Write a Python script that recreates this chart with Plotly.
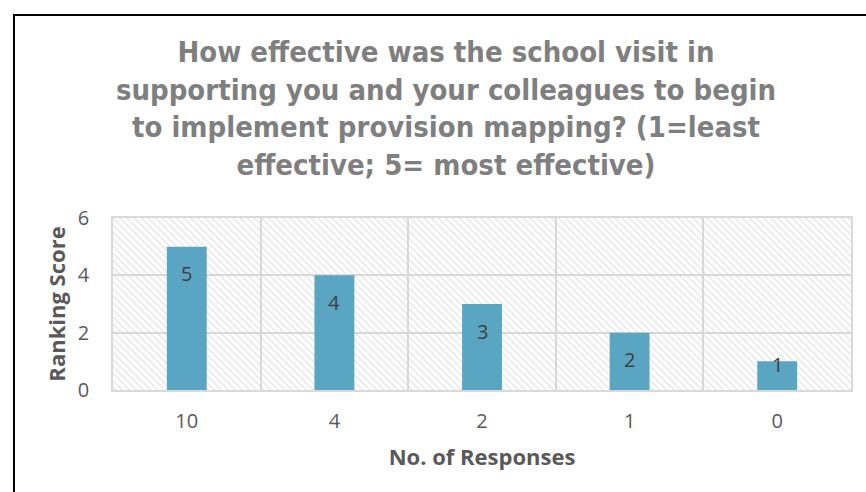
import plotly.graph_objects as go

categories = ["10", "4", "2", "1", "0"]
scores = [5, 4, 3, 2, 1]
y_ticks = [0, 2, 4, 6]
y_max = 6

title_text = ("How effective was the school visit in<br>supporting you and your colleagues to begin<br>"
              "to implement provision mapping? (1=least<br>effective; 5= most effective)")

W, H = 866, 492
ml, mr, mt, mb = 113, 15, 218, 102
pw, ph = W - ml - mr, H - mt - mb
px_per_unit = ph / y_max

fig = go.Figure()
# hatched plot-area background
fig.add_trace(go.Bar(
    x=categories, y=[y_max] * len(categories), width=1,
    marker=dict(color="rgba(0,0,0,0)", line=dict(width=0),
                pattern=dict(shape="\\", fgcolor="#cfcfcf", size=5, solidity=0.3, fillmode="overlay")),
    hoverinfo="skip", showlegend=False,
))
fig.add_trace(go.Bar(
    x=categories, y=scores, width=0.27,
    marker=dict(color="#5aa5c1", line=dict(width=0)),
    showlegend=False,
))

for i, v in enumerate(scores):
    shift = -27 if v * px_per_unit > 40 else -3
    fig.add_annotation(x=i, y=v, text=str(v), showarrow=False, yanchor="middle", yshift=shift,
                       font=dict(family="Open Sans", size=20, color="#404040"))

fig.update_layout(
    width=W, height=H, margin=dict(l=ml, r=mr, t=mt, b=mb),
    paper_bgcolor="white", plot_bgcolor="white",
    barmode="overlay",
    title=dict(text=title_text, x=(446 - ml) / pw, xref="paper", xanchor="center",
               y=1 - 62 / H, yanchor="middle",
               font=dict(family="DejaVu Sans Condensed", size=29, color="#7f7f7f", weight="bold")),
    xaxis=dict(type="category", tickson="boundaries", showgrid=True, gridcolor="#d9d9d9", gridwidth=1.5,
               range=[-0.5, len(categories) - 0.5],
               showline=True, linecolor="#d9d9d9", linewidth=1.5, ticks="", ticklen=0,
               ticklabelstandoff=12,
               tickfont=dict(family="Open Sans", size=20, color="#595959"),
               title=dict(text="No. of Responses", standoff=17,
                          font=dict(family="Open Sans", size=22, color="#595959", weight="bold")),
               mirror=True),
    yaxis=dict(range=[0, y_max], tickvals=y_ticks, showgrid=True, gridcolor="#d9d9d9", gridwidth=1.5,
               zeroline=False, showline=True, linecolor="#d9d9d9", linewidth=1.5, mirror=True,
               ticklabelstandoff=18,
               tickfont=dict(family="Open Sans", size=20, color="#595959"),
               title=dict(text="Ranking Score", standoff=6,
                          font=dict(family="Open Sans", size=22, color="#595959", weight="bold"))),
)

fig.add_shape(type="rect", xref="paper", yref="paper",
              x0=(14 - ml) / pw, x1=(W + 5 - ml) / pw,
              y0=-(mb + 10) / ph, y1=(ph + mt - 15) / ph,
              line=dict(color="black", width=2), layer="above")

fig.write_html("out.html")
